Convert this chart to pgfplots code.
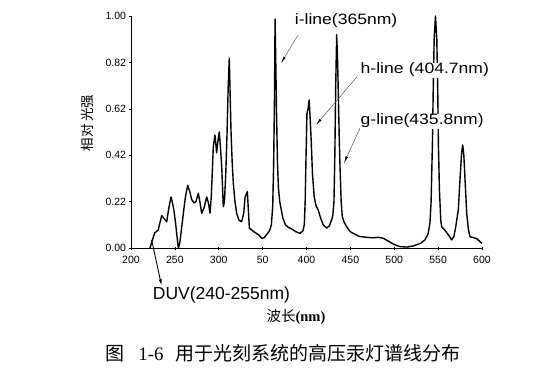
\documentclass[border=0pt]{standalone}
\usepackage{fontspec}
\setmainfont{Liberation Sans}
\newfontfamily\cjk{Noto Sans CJK SC}
\newfontfamily\serif{Liberation Serif}
\usepackage{pgfplots}
\pgfplotsset{compat=1.18}
\usetikzlibrary{arrows.meta}
\begin{document}
\begin{tikzpicture}
\useasboundingbox (0,0) rectangle (555pt,373pt);
\begin{axis}[
  at={(131pt,125pt)}, anchor=south west,
  scale only axis, width=351pt, height=232pt,
  xmin=200, xmax=600, ymin=0, ymax=1,
  axis lines=left, axis line style={-, line width=0.8pt},
  xtick={200,250,...,600},
  xticklabels={200,250,300,50,400,450,500,550,600},
  ytick={0,0.2,0.4,0.6,0.8,1.0},
  yticklabels={0.00,0.22,0.42,0.62,0.82,1.00},
  tick align=center, major tick length=3pt,
  tick style={line width=0.6pt, black},
  ticklabel style={font=\fontsize{10.5}{11}\selectfont},
  xticklabel style={yshift=-3pt},
  clip=false,
]
\addplot[black, line width=1.4pt, line join=round] coordinates {
(221.7,0.00) (224,0.03) (227,0.065) (231,0.078) (235,0.14) (238,0.125) (240.7,0.113)
(243,0.17) (245.6,0.22) (247,0.20) (249,0.16) (251,0.10) (253,0.03) (254,0.0)
(255.5,0.02) (257.8,0.09) (260,0.16) (262,0.22) (264.6,0.27) (267,0.243) (269,0.21)
(271.8,0.194) (274,0.20) (276.7,0.236) (278.5,0.20) (280.5,0.15) (283,0.17) (286.3,0.22)
(288.5,0.19) (290,0.15) (291.5,0.22) (293.8,0.437) (295.7,0.487) (297.6,0.41) (299,0.46)
(300.6,0.50) (302,0.43) (303.4,0.35) (305.2,0.178) (306.5,0.20) (308,0.32) (309.5,0.50)
(310.8,0.70) (312,0.818) (313,0.66) (314,0.50) (315.3,0.37) (316.6,0.28) (318.5,0.20)
(320.4,0.15) (323,0.12) (326,0.113) (328.5,0.15) (330,0.22) (332.6,0.243) (333.8,0.16)
(334.9,0.085) (337,0.08) (340,0.07) (343,0.063) (346,0.055) (349,0.042) (352,0.045)
(356,0.065) (358,0.075) (360,0.10) (361.5,0.18) (362.5,0.35) (363.4,0.60) (364.2,0.987)
(365,0.80) (366,0.55) (367,0.36) (368,0.26) (369.5,0.20) (371,0.17) (373,0.13)
(376,0.10) (379,0.09) (384,0.08) (388,0.07) (392.6,0.063) (396,0.075) (397.5,0.10)
(398.5,0.20) (399.5,0.40) (400.5,0.58) (401.8,0.60) (403,0.638) (404.3,0.55) (405.5,0.45)
(406.8,0.32) (408.8,0.22) (411,0.18) (413.4,0.164) (416,0.13) (419,0.10) (423,0.086)
(426,0.095) (428.5,0.12) (430,0.14) (431.3,0.2) (432.3,0.40) (433.3,0.70) (434.4,0.92)
(435.5,0.80) (436.5,0.62) (437.4,0.46) (438.2,0.35) (439.5,0.20) (440.8,0.135) (443,0.11)
(446,0.09) (450,0.07) (453.4,0.063) (460,0.05) (468.6,0.046) (475,0.044) (482,0.046)
(487.5,0.042) (493,0.03) (500,0.015) (506.6,0.006) (515,0.004) (521.7,0.009) (530,0.02)
(535,0.035) (538.5,0.06) (540.7,0.108) (542,0.2) (543.5,0.45) (544.5,0.7) (545.5,0.9)
(547,1.0) (548.5,0.9) (549.5,0.7) (550.3,0.45) (551.5,0.25) (553,0.12) (554,0.092)
(558,0.075) (562,0.055) (565.5,0.035) (568,0.05) (570,0.09) (573,0.164) (575,0.30)
(576.8,0.41) (578,0.444) (579.3,0.40) (581,0.27) (582.6,0.15) (584.5,0.08) (586.3,0.049)
(590,0.045) (594,0.04) (597,0.03) (600,0.02)
};
\tikzset{ann/.style={gray!70!black, line width=0.5pt, -{Latex[length=7pt,width=2.6pt,black]}}}
\draw[ann] (axis cs:390.3,0.918) -- (axis cs:370.9,0.796);
\draw[ann] (axis cs:457.5,0.738) -- (axis cs:410.8,0.53);
\draw[ann] (axis cs:461,0.517) -- (axis cs:442.7,0.366);
\draw[black, line width=0.9pt, -{Latex[length=7pt,width=3pt]}] (axis cs:223.6,0.034) -- (axis cs:235,-0.165);
\node[anchor=west, inner sep=0.5pt, font=\fontsize{15}{15}\selectfont] at (axis cs:386,0.978) {\scalebox{1.17}[1]{i-line(365nm)}};
\node[anchor=west, fill=white, inner sep=0.5pt, font=\fontsize{15}{15}\selectfont] at (axis cs:461,0.767) {\scalebox{1.17}[1]{h-line\hspace{0.3em}(404.7nm)}};
\node[anchor=west, fill=white, inner sep=0.5pt, font=\fontsize{15}{15}\selectfont] at (axis cs:461,0.547) {\scalebox{1.17}[1]{g-line(435.8nm)}};
\node[anchor=west, inner sep=0pt, font=\fontsize{17.5}{18}\selectfont] at (axis cs:224.7,-0.203) {DUV(240-255nm)};
\end{axis}
\node[rotate=90, font=\fontsize{13.5}{14}\selectfont\cjk] at (87pt,250pt) {相对\,光强};
\node[font=\fontsize{14.5}{15}\selectfont\cjk] at (296pt,56pt) {波长{\serif\bfseries (nm)}};
\node[font=\fontsize{19}{19}\selectfont\cjk] at (283pt,20pt) {图\hspace{0.7em}{\serif 1-6}\hspace{0.6em}用于光刻系统的高压汞灯谱线分布};
\end{tikzpicture}
\end{document}
